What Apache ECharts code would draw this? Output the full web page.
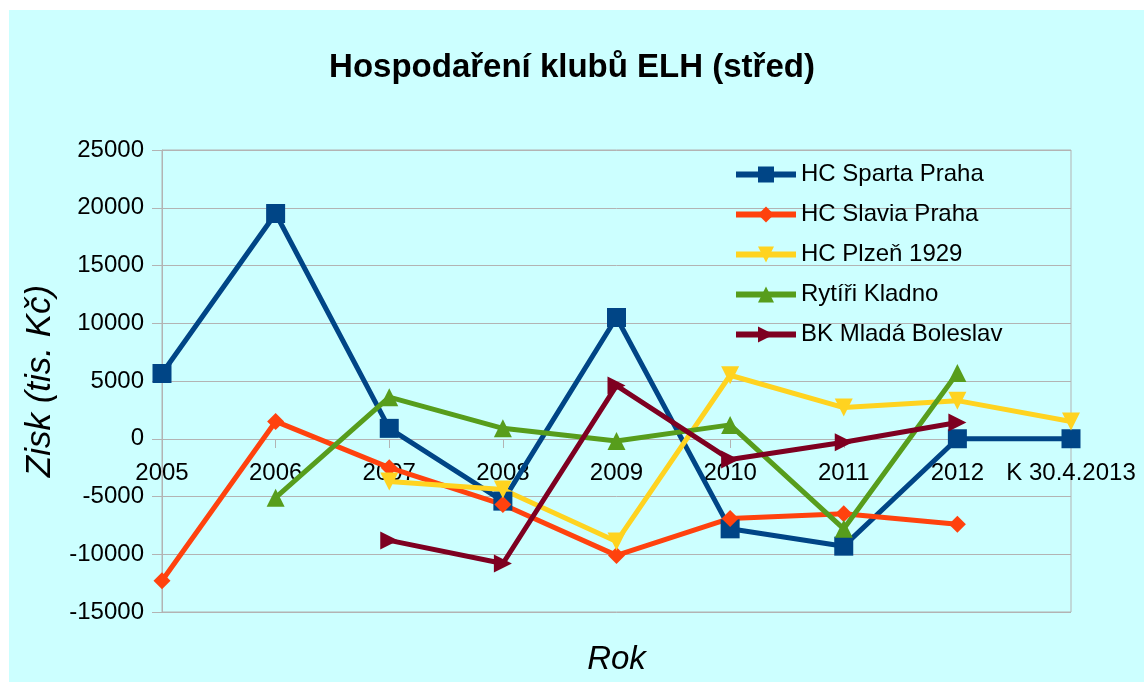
<!DOCTYPE html>
<html>
<head>
<meta charset="utf-8">
<title>Hospodaření klubů ELH (střed)</title>
<script src="https://cdn.jsdelivr.net/npm/echarts@6/dist/echarts.min.js"></script>
<style>
  html, body { margin: 0; padding: 0; background: #ffffff; }
  #bg { position: absolute; left: 9px; top: 10px; right: 0; bottom: 0; background: #ccffff; }
  #chart { position: absolute; left: 0; top: 0; width: 1144px; height: 682px; }
</style>
</head>
<body>
<div id="bg"></div>
<div id="chart"></div>
<script>
// data (tis. Kč)
const years = ["2005", "2006", "2007", "2008", "2009", "2010", "2011", "2012", "K 30.4.2013"];
const sparta = [5650, 19500, 900, -5400, 10500, -7800, -9300, 0, 0];
const slavia = [-12300, 1500, -2500, -5700, -10100, -6900, -6500, -7400, null];
const plzen = [null, null, -3700, -4400, -8900, 5500, 2700, 3300, 1500];
const kladno = [null, -5100, 3600, 900, -200, 1200, -7800, 5700, null];
const boleslav = [null, null, -8800, -10800, 4600, -1800, -300, 1400, null];

const font = "Liberation Sans";
const gray = "#b3b3b3";

function line(name, data, color, symbol, size, rotate) {
  return {
    name: name,
    type: "line",
    data: data,
    symbol: symbol,
    symbolSize: size,
    symbolRotate: rotate || 0,
    showAllSymbol: true,
    connectNulls: false,
    lineStyle: { width: 5, color: color },
    itemStyle: { color: color },
    emphasis: { disabled: true }
  };
}

const chart = echarts.init(document.getElementById("chart"));
chart.setOption({
  animation: false,
  backgroundColor: "transparent",
  textStyle: { fontFamily: font },
  title: {
    text: "Hospodaření klubů ELH (střed)",
    left: "center",
    top: 46,
    textStyle: { fontFamily: font, fontSize: 33, fontWeight: "bold", color: "#000" }
  },
  legend: {
    orient: "vertical",
    left: 728,
    top: 157,
    itemWidth: 60,
    itemHeight: 20,
    itemGap: 15,
    lineStyle: { width: 6 },
    textStyle: { fontFamily: font, fontSize: 24, lineHeight: 25, color: "#000" }
  },
  grid: {
    left: 162,
    right: 73,
    top: 150,
    bottom: 70,
    outerBoundsMode: "none",
    show: true,
    borderColor: gray,
    borderWidth: 1
  },
  xAxis: {
    type: "category",
    data: years,
    boundaryGap: false,
    // axis line sits on the zero gridline
    offset: -173,
    name: "Rok",
    nameLocation: "middle",
    nameGap: 204,
    nameTextStyle: { fontFamily: font, fontSize: 33, fontStyle: "italic", color: "#000" },
    axisLine: { onZero: false, lineStyle: { color: gray, width: 1 } },
    axisTick: { show: true, length: 9, lineStyle: { color: gray } },
    axisLabel: { fontFamily: font, fontSize: 24, color: "#000", margin: 22, interval: 0 },
    splitLine: { show: false }
  },
  yAxis: {
    type: "value",
    min: -15000,
    max: 25000,
    interval: 5000,
    name: "Zisk (tis. Kč)",
    nameLocation: "middle",
    nameGap: 104,
    nameTextStyle: { fontFamily: font, fontSize: 35, fontStyle: "italic", color: "#000" },
    axisLine: { show: true, lineStyle: { color: gray, width: 1 } },
    axisTick: { show: true, length: 10, lineStyle: { color: gray } },
    axisLabel: { fontFamily: font, fontSize: 24, color: "#000", margin: 18, formatter: v => String(v) },
    splitLine: { show: true, lineStyle: { color: gray, width: 1 } }
  },
  series: [
    line("HC Sparta Praha", sparta, "#004586", "rect", 19),
    line("HC Slavia Praha", slavia, "#ff420e", "diamond", 17),
    line("HC Plzeň 1929", plzen, "#ffd320", "triangle", 18, 180),
    line("Rytíři Kladno", kladno, "#579d1c", "triangle", 18),
    line("BK Mladá Boleslav", boleslav, "#7e0021", "triangle", 18, -90)
  ]
});
</script>
</body>
</html>
